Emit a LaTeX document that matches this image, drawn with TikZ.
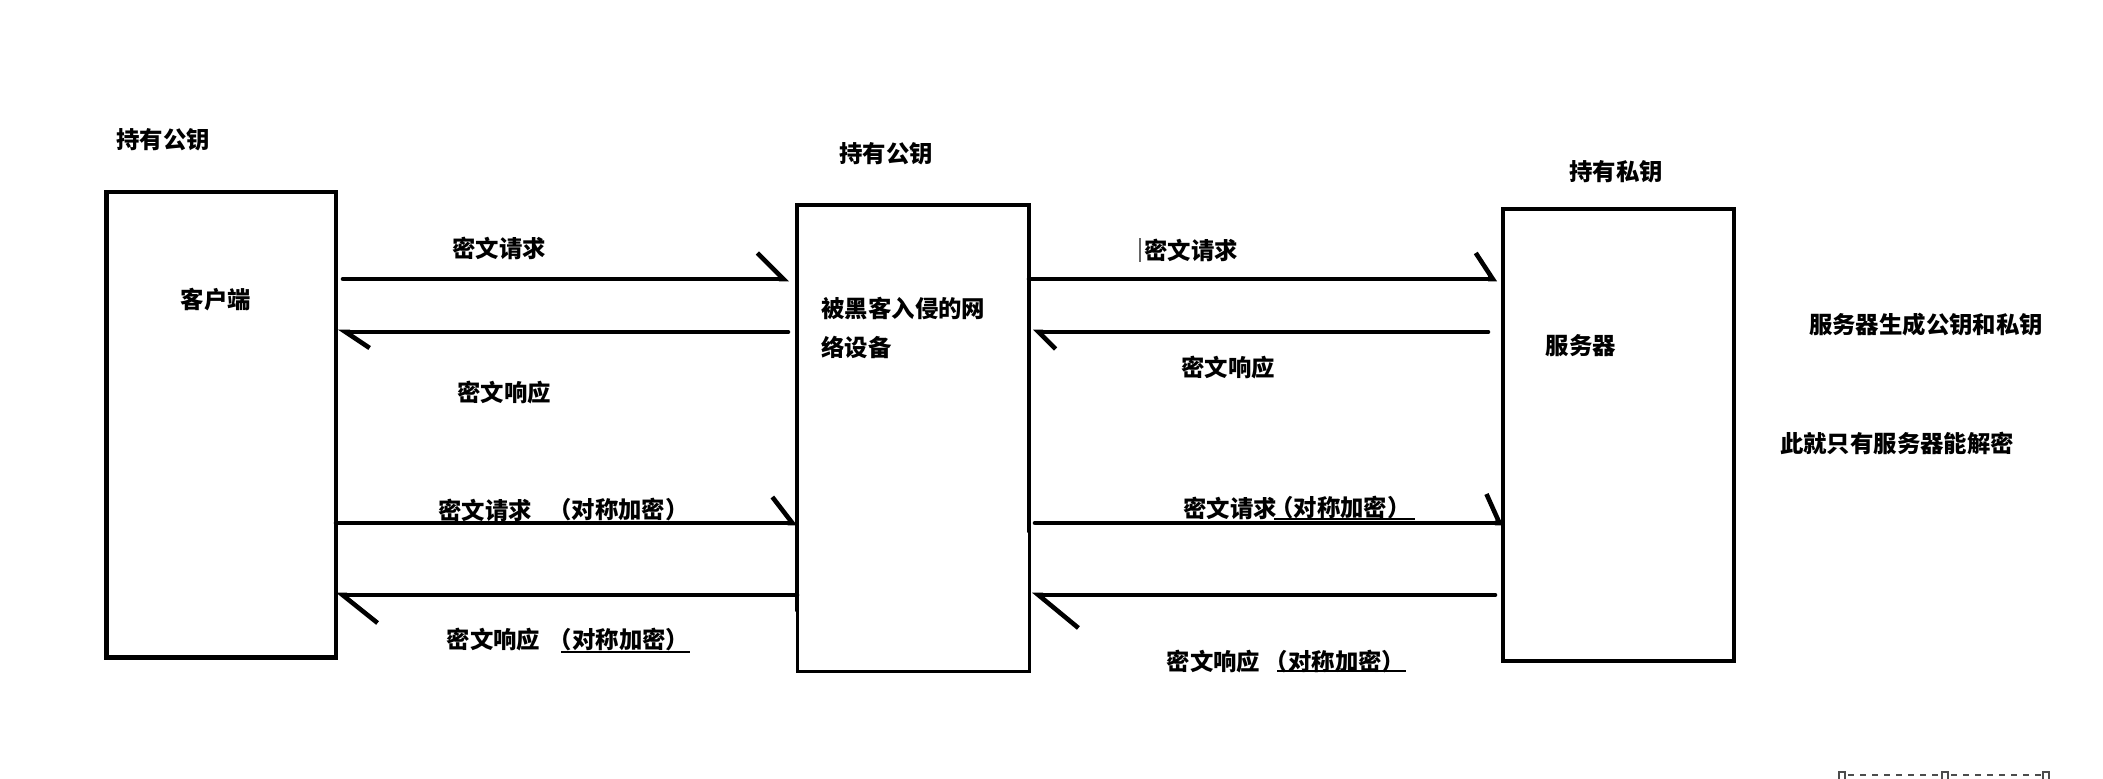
\documentclass[tikz,border=0pt]{standalone}
\usepackage{fontspec}
\setmainfont{Noto Sans CJK SC}
\usetikzlibrary{arrows.meta,positioning}

\begin{document}
\begin{tikzpicture}[
    x=0.5pt, y=-0.5pt,
    box/.style={rectangle,draw,line width=2.4pt,inner sep=0pt,outer sep=0pt},
    thinbox/.style={box,line width=1.5pt},
    edge/.style={line width=2.4pt,line cap=round},
    lbl/.style={inner sep=0pt,font=\fontsize{11.7pt}{19.5pt}\selectfont\bfseries},
    msg/.style 2 args={line width=2.3pt,line cap=round,
      -{Straight Barb[left,length=#1,width=#2]}},
    uline/.style={line width=1pt},
    handle/.style={draw=black!70,line width=0.6pt}
  ]
    \useasboundingbox (0,0) rectangle (2103,779);

    % rows of the messages
    \coordinate (r1) at (0,279);
    \coordinate (r2) at (0,332);
    \coordinate (r3) at (0,523);
    \coordinate (r4) at (0,595);

    % the three parties
    \node[box,minimum width=114.75pt,minimum height=232.75pt] (client) at (221.25,424.75) {};
    \node[thinbox,minimum width=116pt,minimum height=233.5pt] (mitm) at (913,438.5) {};
    \draw[edge] ([yshift=31pt]mitm.south west) |- (mitm.north east) -- ([yshift=70.5pt]mitm.south east);
    \node[box,minimum width=115.5pt,minimum height=226pt] (server) at (1618.5,435) {};

    \node[lbl] (clientname) at (216,300) {客户端};
    \node[lbl,anchor=west,align=left] (mitmname) at (821,327.5) {被黑客入侵的网\\络设备};
    \node[lbl] (servername) at (1581,346) {服务器};

    \node[lbl] (clientkey) at (163,140) {持有公钥};
    \node[lbl] (mitmkey) at (886,154) {持有公钥};
    \node[lbl] (serverkey) at (1616,172) {持有私钥};

    \node[lbl] (note1) at (1926,325) {服务器生成公钥和私钥};
    \node[lbl] (note2) at (1897,443) {此就只有服务器能解密};

    % first exchange
    \draw[msg={13pt}{26pt},shorten <=3.5pt,shorten >=4pt] (client.east |- r1) -- (mitm.west |- r1);
    \draw[msg={12pt}{16pt},shorten <=4.5pt,shorten >=1pt] (mitm.west |- r2) -- (client.east |- r2);
    \draw[msg={8.5pt}{26pt},shorten >=3pt] (mitm.east |- r1) -- (server.west |- r1);
    \draw[msg={8.5pt}{17pt},shorten <=7.5pt,shorten >=2pt] (server.west |- r2) -- (mitm.east |- r2);

    \node[lbl] (req1) at (499,248) {密文请求};
    \node[lbl] (resp1) at (504,393) {密文响应};
    \node[lbl] (req2) at (1191,250) {密文请求};
    \draw[line width=1pt,black!60] ([xshift=-2pt]req2.north west) -- ([xshift=-2pt]req2.south west);
    \node[lbl] (resp2) at (1228,368) {密文响应};

    % second exchange, symmetric
    \draw[msg={10pt}{26pt}] (client.east |- r3) -- (mitm.west |- r3);
    \draw[msg={17.5pt}{28pt}] (mitm.west |- r4) -- (client.east |- r4);
    \draw[msg={6.5pt}{29pt},shorten <=3pt] (mitm.east |- r3) -- (server.west |- r3);
    \draw[msg={20pt}{33pt},shorten <=4pt,shorten >=1.5pt] (server.west |- r4) -- (mitm.east |- r4);

    \node[lbl] (req3) at (485,510) {密文请求};
    \node[lbl] (sym3) at (618.5,510) {（对称加密）};
    \node[lbl] (resp3) at (493.5,640) {密文响应};
    \node[lbl] (sym4) at (619,640) {（对称加密）};
    \node[lbl] (req4) at (1230,508) {密文请求};
    \node[lbl] (sym5) at (1340.5,508) {（对称加密）};
    \node[lbl] (resp4) at (1213.5,662) {密文响应};
    \node[lbl] (sym6) at (1335,662) {（对称加密）};

    \draw[uline] ([xshift=6.5pt,yshift=-6pt]sym4.west) -- ([yshift=-6pt]sym4.east);
    \draw[uline] ([xshift=2pt,yshift=-5.5pt]sym5.west) -- ([xshift=2pt,yshift=-5.5pt]sym5.east);
    \draw[uline] ([xshift=6.5pt,yshift=-4.5pt]sym6.west) -- ([yshift=-4.5pt]sym6.east);

    % handles at the lower edge
    \draw[handle,dash pattern=on 3pt off 3pt] (1848,775) -- (1940,775) (1951,775) -- (2042,775);
    \foreach \hx in {1842,1945,2046}
      \draw[handle] ({\hx-3},772) rectangle ({\hx+3},782);
  \end{tikzpicture}
\end{document}
